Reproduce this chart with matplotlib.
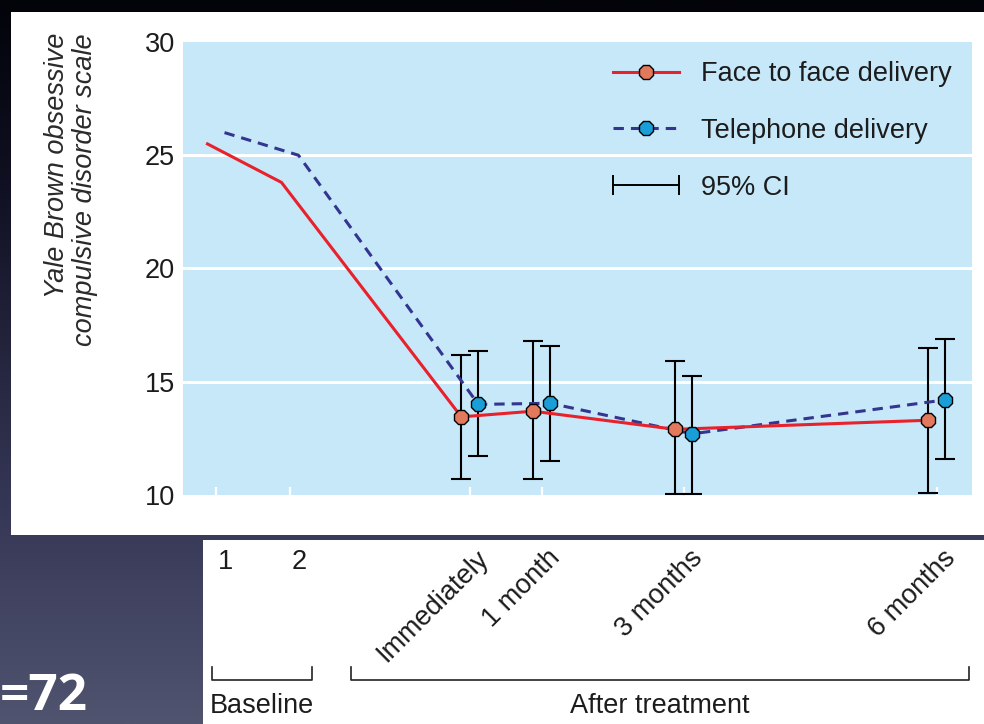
import numpy as np
import matplotlib
matplotlib.use('Agg')
import matplotlib.pyplot as plt
from matplotlib.lines import Line2D
from matplotlib.legend_handler import HandlerLine2D
from matplotlib.transforms import blended_transform_factory, ScaledTranslation
from matplotlib.colors import LinearSegmentedColormap
from matplotlib.patches import Rectangle

# ---------------- data ----------------
tick_labels = ['1', '2', 'Immediately', '1 month', '3 months', '6 months']
tick_pos = [1.0, 2.0, 4.43, 5.40, 7.32, 10.74]
face_mean = [25.5, 23.8, 13.45, 13.7, 12.9, 13.3]
tel_mean = [26.0, 25.0, 14.0, 14.05, 12.7, 14.2]
# 95% CI for the after-treatment points (Immediately, 1, 3, 6 months)
face_ci_low = [10.7, 10.7, 10.05, 10.1]
face_ci_high = [16.2, 16.8, 15.9, 16.5]
tel_ci_low = [11.7, 11.5, 10.05, 11.6]
tel_ci_high = [16.35, 16.6, 15.25, 16.9]
yticks = [10, 15, 20, 25, 30]
group_labels = ['Baseline', 'After treatment']
series_labels = ['Face to face delivery', 'Telephone delivery', '95% CI']

# ---------------- style ----------------
W, H = 984, 724
BG_PLOT = '#c6e8f9'
RED = '#e8212b'
FACE_MK = '#e2785c'
NAVY = '#33358f'
TEL_MK = '#1a9ed8'
TXT = '#1c1c1c'
FS = 19.5

plt.rcParams['font.family'] = ['Liberation Sans', 'DejaVu Sans']

fig = plt.figure(figsize=(W / 100, H / 100), dpi=100)

# background (pixel coordinates)
bg = fig.add_axes([0, 0, 1, 1], zorder=-5)
bg.set_xlim(0, W)
bg.set_ylim(H, 0)
bg.axis('off')
cmap = LinearSegmentedColormap.from_list(
    'bg', [(0, '#03030a'), (0.25, '#101022'), (0.7, '#363756'), (1, '#50546f')])
grad = np.linspace(0, 1, 256).reshape(-1, 1)
bg.imshow(grad, cmap=cmap, extent=[0, W, H, 0], aspect='auto', zorder=0)
bg.add_patch(Rectangle((11, 12), W - 11, 523, facecolor='white', edgecolor='none', zorder=1))
bg.add_patch(Rectangle((203, 540), W - 203, H - 540, facecolor='white', edgecolor='none', zorder=1))
bg.text(88, 710, '=72', color='white', fontsize=37, fontweight='bold',
        family=['Open Sans', 'DejaVu Sans'], ha='right', va='baseline', zorder=2)
bg.text(71, 33, 'Yale Brown obsessive\ncompulsive disorder scale', rotation=90,
        ha='center', va='top', multialignment='right', fontsize=FS,
        style='italic', color='#2a2a2a', linespacing=1.1, zorder=2)

# main axes
px0, px1, py0, py1 = 183, 972, 42, 495
ax = fig.add_axes([px0 / W, (H - py1) / H, (px1 - px0) / W, (py1 - py0) / H], zorder=1)
ppu = 74.0  # pixels per x unit
ax.set_xlim(tick_pos[0] - (216 - px0) / ppu, tick_pos[0] + (px1 - 216) / ppu)
ax.set_ylim(10, 30)
ax.set_facecolor(BG_PLOT)
for s in ax.spines.values():
    s.set_visible(False)
ax.set_yticks(yticks)
ax.set_yticklabels([str(v) for v in yticks], fontsize=FS, color=TXT)
ax.tick_params(axis='y', length=0, pad=6)
ax.set_xticks(tick_pos)
ax.set_xticklabels([])
ax.tick_params(axis='x', direction='in', length=6, width=1.6, color='white')
for v in yticks[1:-1]:
    ax.axhline(v, color='white', lw=2.2, zorder=1)

off = 0.115
xf = [p - off for p in tick_pos]
xt = [p + off for p in tick_pos]
after = slice(2, 6)
fm = np.array(face_mean[after])
tm = np.array(tel_mean[after])
ax.errorbar(xf[after], fm, yerr=[fm - np.array(face_ci_low), np.array(face_ci_high) - fm],
            fmt='none', ecolor='black', elinewidth=1.5, capsize=7, capthick=1.5, zorder=2)
ax.errorbar(xt[after], tm, yerr=[tm - np.array(tel_ci_low), np.array(tel_ci_high) - tm],
            fmt='none', ecolor='black', elinewidth=1.5, capsize=7, capthick=1.5, zorder=2)
ax.plot(xt, tel_mean, color=NAVY, lw=2.2, dashes=(3.4, 2.3), zorder=3)
ax.plot(xf, face_mean, color=RED, lw=2.2, zorder=4)
ax.plot(xf[after], fm, ls='none', marker='8', ms=11, mfc=FACE_MK, mec='black', mew=1.0, zorder=5)
ax.plot(xt[after], tm, ls='none', marker='8', ms=11, mfc=TEL_MK, mec='black', mew=1.0, zorder=5)

# legend
h_face = Line2D([], [], color=RED, lw=2.2, marker='8', ms=11, mfc=FACE_MK, mec='black', mew=1.0)
h_tel = Line2D([], [], color=NAVY, lw=2.2, dashes=(3.4, 2.3), marker='8', ms=11,
               mfc=TEL_MK, mec='black', mew=1.0)
h_ci = Line2D([], [], color='black', lw=1.4, marker='|', ms=14, mew=1.4)
leg = ax.legend([h_face, h_tel, h_ci], series_labels, loc='upper left',
                bbox_to_anchor=((613 - px0) / (px1 - px0), (py1 - 61) / (py1 - py0)),
                frameon=False, fontsize=FS, handlelength=2.45, handletextpad=0.8,
                labelspacing=1.14, borderpad=0, borderaxespad=0,
                handler_map={h_ci: HandlerLine2D(numpoints=2, marker_pad=0)})
for t in leg.get_texts():
    t.set_color(TXT)

# x labels and group brackets
def frac(py):
    return (py1 - py) / (py1 - py0)

base = blended_transform_factory(ax.transData, ax.transAxes)
shift = base + ScaledTranslation(9 / 100, 0, fig.dpi_scale_trans)
rshift = base + ScaledTranslation(15 / 100, 0, fig.dpi_scale_trans)
for i, lab in enumerate(tick_labels):
    if i < 2:
        ax.text(tick_pos[i], frac(562), lab, transform=shift, ha='center', va='center',
                fontsize=FS, color=TXT, clip_on=False)
    else:
        ax.text(tick_pos[i], frac(554), lab, transform=rshift, ha='right', va='center',
                rotation=45, rotation_mode='anchor', fontsize=FS, color=TXT, clip_on=False)

def bracket(x0, x1, label):
    yb, yt = frac(680), frac(667)
    ax.plot([x0, x0, x1, x1], [yt, yb, yb, yt], color='#222222', lw=1.2,
            transform=base, clip_on=False)
    ax.text((x0 + x1) / 2, frac(706), label, transform=base, ha='center', va='center',
            fontsize=FS, color=TXT, clip_on=False)

bracket(tick_pos[0] - 4 / ppu, tick_pos[1] + 22 / ppu, group_labels[0])
bracket(tick_pos[2] - 119 / ppu, tick_pos[5] + 32 / ppu, group_labels[1])

fig.savefig('out.png', dpi=100)
